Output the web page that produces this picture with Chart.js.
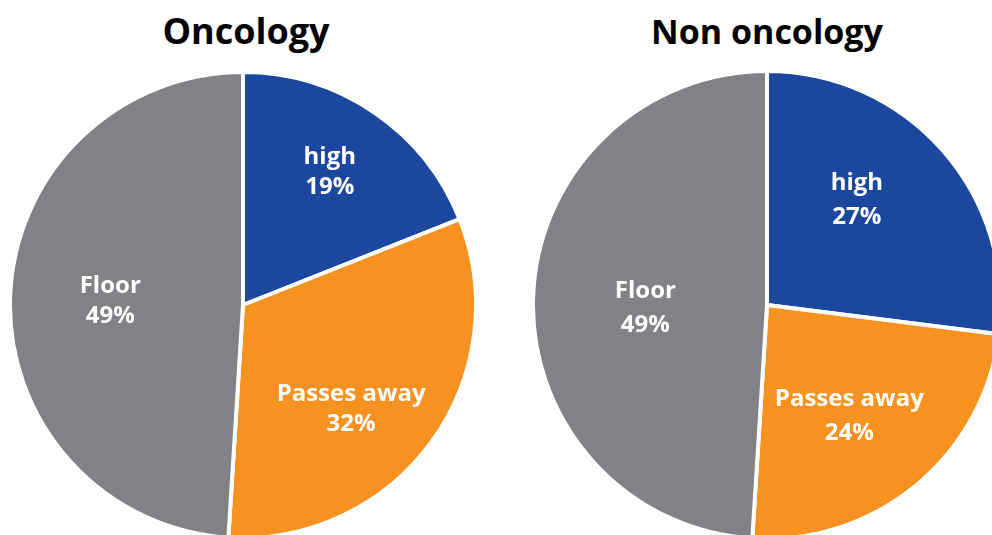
<!DOCTYPE html>
<html lang="en">
<head>
    <meta charset="UTF-8">
    <title>Oncology vs Non oncology</title>
    <script src="https://cdn.jsdelivr.net/npm/chart.js"></script>
    <style>
        html, body {
            margin: 0;
            padding: 0;
            width: 992px;
            height: 535px;
            overflow: hidden;
            background: #ffffff;
            position: relative;
            font-family: "Open Sans", sans-serif;
        }
        .title {
            position: absolute;
            top: 8px;
            font-size: 34px;
            font-weight: 700;
            color: #000;
            text-align: center;
            width: 400px;
        }
        canvas {
            position: absolute;
        }
    </style>
</head>
<body>
    <div class="title" style="left: 46px; top: 6px; font-size: 36px;">Oncology</div>
    <div class="title" style="left: 567px;">Non oncology</div>
    <canvas id="oncoChart" width="470" height="470" style="left: 8px; top: 70px;"></canvas>
    <canvas id="nonOncoChart" width="472" height="472" style="left: 531px; top: 69px;"></canvas>

<script>
    const categories = ["high", "Passes away", "Floor"];
    const oncologyValues = [19, 32, 49];
    const nonOncologyValues = [27, 24, 49];

    const sliceColors = ["#1b479e", "#f7911f", "#808285"];

    // label placement: fraction of radius, and angle nudge in degrees
    const oncoLabelPos = [0.68, 0.645, 0.57];
    const oncoLabelTurn = [-1, 8, 0];
    const nonOncoLabelPos = [0.59, 0.59, 0.52];
    const nonOncoLabelTurn = [-8, 3, -3.5];

    const labelPlugin = {
        id: "sliceLabels",
        afterDatasetsDraw(chart, args, opts) {
            const ctx = chart.ctx;
            const meta = chart.getDatasetMeta(0);
            const values = chart.data.datasets[0].data;
            ctx.save();
            ctx.fillStyle = "#ffffff";
            ctx.font = "700 24px 'Open Sans'";
            ctx.textAlign = "center";
            ctx.textBaseline = "middle";
            meta.data.forEach((arc, i) => {
                const mid = (arc.startAngle + arc.endAngle) / 2 + opts.turn[i] * Math.PI / 180;
                const r = arc.outerRadius * opts.pos[i];
                const x = arc.x + Math.cos(mid) * r;
                const y = arc.y + Math.sin(mid) * r;
                ctx.fillText(chart.data.labels[i], x, y - opts.gap);
                ctx.fillText(values[i] + "%", x, y + opts.gap);
            });
            ctx.restore();
        }
    };

    function makePie(id, values, pos, turn, gap) {
        return new Chart(document.getElementById(id), {
            type: "pie",
            data: {
                labels: categories,
                datasets: [{
                    data: values,
                    backgroundColor: sliceColors,
                    borderColor: "#ffffff",
                    borderWidth: 4
                }]
            },
            options: {
                responsive: false,
                animation: false,
                layout: { padding: 0 },
                plugins: {
                    legend: { display: false },
                    tooltip: { enabled: false },
                    sliceLabels: { pos: pos, turn: turn, gap: gap }
                }
            },
            plugins: [labelPlugin]
        });
    }

    makePie("oncoChart", oncologyValues, oncoLabelPos, oncoLabelTurn, 15);
    makePie("nonOncoChart", nonOncologyValues, nonOncoLabelPos, nonOncoLabelTurn, 17);
</script>
</body>
</html>
